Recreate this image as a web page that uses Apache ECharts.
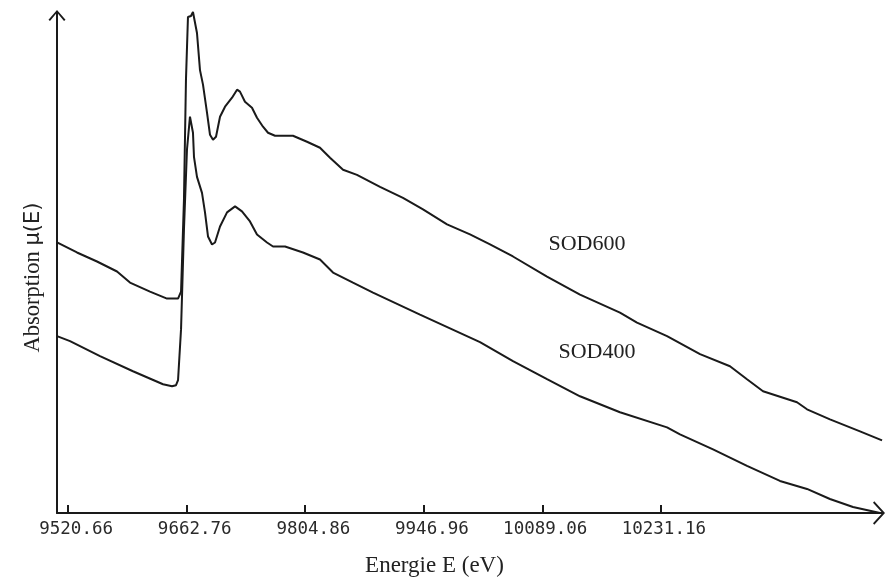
<!DOCTYPE html>
<html>
<head>
<meta charset="utf-8">
<title>XANES SOD400 / SOD600</title>
<script src="https://cdn.jsdelivr.net/npm/echarts@6/dist/echarts.min.js"></script>
<style>
  html, body { margin: 0; padding: 0; background: #ffffff; }
  #chart { width: 888px; height: 582px; }
</style>
</head>
<body>
<div id="chart"></div>
<script>
// Tick positions on the energy axis (eV)
const energyTicks = [9520.66, 9662.76, 9804.86, 9946.96, 10089.06, 10231.16];

// SOD600 spectrum: energy (eV) and absorption (arb. units)
const sod600Energy = [
  9507.5, 9531.4, 9555.4, 9579.4, 9594.9, 9618.9, 9639.3, 9652.5, 9656.1, 9659.6,
  9662.0, 9664.4, 9668.0, 9670.4, 9675.2, 9678.8, 9682.4, 9687.2, 9690.8, 9694.4,
  9698.0, 9702.8, 9708.8, 9717.2, 9723.2, 9726.7, 9732.7, 9741.1, 9747.1, 9754.3,
  9760.3, 9768.7, 9790.2, 9807.0, 9822.6, 9834.6, 9850.2, 9866.9, 9894.5, 9922.0,
  9946.0, 9974.8, 10002.3, 10026.3, 10053.8, 10094.6, 10134.1, 10182.0, 10202.4, 10238.4,
  10277.9, 10313.8, 10334.2, 10353.4, 10394.1, 10406.1, 10433.6, 10469.6, 10496.0
];
const sod600Mu = [
  0.540, 0.520, 0.502, 0.482, 0.460, 0.442, 0.428, 0.428, 0.442, 0.625,
  0.865, 0.990, 0.992, 1.000, 0.958, 0.884, 0.855, 0.799, 0.755, 0.745,
  0.751, 0.791, 0.811, 0.829, 0.845, 0.841, 0.821, 0.809, 0.789, 0.771,
  0.759, 0.753, 0.753, 0.741, 0.729, 0.709, 0.685, 0.675, 0.651, 0.629,
  0.606, 0.576, 0.556, 0.536, 0.512, 0.472, 0.436, 0.400, 0.380, 0.353,
  0.317, 0.293, 0.267, 0.243, 0.221, 0.207, 0.187, 0.163, 0.145
];

// SOD400 spectrum: energy (eV) and absorption (arb. units)
const sod400Energy = [
  9507.5, 9523.1, 9559.0, 9598.5, 9634.5, 9645.3, 9650.1, 9652.5, 9656.1, 9659.6,
  9663.2, 9666.8, 9670.4, 9671.6, 9675.2, 9681.2, 9684.8, 9688.4, 9693.2, 9696.8,
  9702.8, 9711.2, 9720.8, 9729.1, 9738.7, 9747.1, 9759.1, 9766.3, 9780.7, 9802.2,
  9822.6, 9838.2, 9862.1, 9886.1, 9942.4, 10014.3, 10053.8, 10094.6, 10134.1, 10182.0,
  10238.4, 10253.9, 10293.5, 10334.2, 10373.7, 10406.1, 10433.6, 10461.2, 10493.6
];
const sod400Mu = [
  0.353, 0.343, 0.313, 0.283, 0.257, 0.253, 0.255, 0.265, 0.367, 0.566,
  0.725, 0.791, 0.759, 0.711, 0.671, 0.639, 0.600, 0.552, 0.536, 0.540,
  0.572, 0.600, 0.612, 0.602, 0.582, 0.556, 0.540, 0.532, 0.532, 0.520,
  0.506, 0.480, 0.460, 0.440, 0.396, 0.341, 0.303, 0.267, 0.233, 0.201,
  0.171, 0.157, 0.127, 0.094, 0.064, 0.048, 0.028, 0.012, 0.000
];

function pairs(xs, ys) {
  return xs.map(function (x, i) { return [x, ys[i]]; });
}

// Open chevrons used as axis arrow heads (drawn pointing up, rotated by the axis)
const chevronX = 'path://M11,0 L22,10 L20.6,11.2 L11,2.4 L1.4,11.2 L0,10 Z';
const chevronY = 'path://M8,0 L16,9 L14.6,10.2 L8,2.3 L1.4,10.2 L0,9 Z';

const chart = echarts.init(document.getElementById('chart'), null, { renderer: 'canvas' });

const ink = '#1a1a1a';
const lineStyleCommon = { color: ink, width: 2 };

chart.setOption({
  animation: false,
  backgroundColor: '#ffffff',
  grid: { left: 57, right: 6, top: 12, bottom: 68, containLabel: false },
  xAxis: {
    type: 'value',
    min: 9507.48,
    max: 10495.95,
    name: 'Energie E (eV)',
    nameLocation: 'middle',
    nameGap: 41,
    nameTextStyle: {
      fontFamily: 'Liberation Serif',
      fontSize: 23,
      color: '#222',
      padding: [0, 70, 0, 0]
    },
    axisLine: {
      show: true,
      lineStyle: { color: ink, width: 2 },
      symbol: ['none', chevronX],
      symbolSize: [24, 12],
      symbolOffset: [0, -3]
    },
    axisTick: {
      show: true,
      inside: true,
      length: 8,
      customValues: energyTicks,
      lineStyle: { color: ink, width: 2 }
    },
    axisLabel: {
      show: true,
      customValues: energyTicks,
      margin: 7,
      align: 'center',
      formatter: function (v) { return '{t|' + v.toFixed(2) + '}'; },
      rich: {
        t: {
          width: 90,
          align: 'right',
          fontFamily: 'DejaVu Sans Mono',
          fontSize: 17.5,
          color: '#2a2a2a'
        }
      }
    },
    splitLine: { show: false }
  },
  yAxis: {
    type: 'value',
    min: 0,
    max: 1,
    name: '{s|Absorption }{m|μ(E)}',
    nameLocation: 'middle',
    nameGap: 12,
    nameTextStyle: {
      color: '#222',
      padding: [0, 30, 0, 0],
      rich: {
        s: { fontFamily: 'Liberation Serif', fontSize: 22.5, color: '#222' },
        m: { fontFamily: 'DejaVu Sans', fontSize: 21, color: '#222' }
      }
    },
    axisLine: {
      show: true,
      lineStyle: { color: ink, width: 2 },
      symbol: ['none', chevronY],
      symbolSize: [17, 11],
      symbolOffset: [0, -3.5]
    },
    axisTick: { show: false },
    axisLabel: { show: false },
    splitLine: { show: false }
  },
  series: [
    {
      name: 'SOD600',
      type: 'line',
      data: pairs(sod600Energy, sod600Mu),
      showSymbol: false,
      symbol: 'none',
      smooth: false,
      lineStyle: lineStyleCommon,
      markPoint: {
        symbol: 'circle',
        symbolSize: 0,
        label: {
          show: true,
          position: 'inside',
          fontFamily: 'Liberation Serif',
          fontSize: 22,
          color: '#222',
          formatter: 'SOD600'
        },
        data: [{ coord: [10142.4, 0.536] }]
      }
    },
    {
      name: 'SOD400',
      type: 'line',
      data: pairs(sod400Energy, sod400Mu),
      showSymbol: false,
      symbol: 'none',
      smooth: false,
      lineStyle: lineStyleCommon,
      markPoint: {
        symbol: 'circle',
        symbolSize: 0,
        label: {
          show: true,
          position: 'inside',
          fontFamily: 'Liberation Serif',
          fontSize: 22,
          color: '#222',
          formatter: 'SOD400'
        },
        data: [{ coord: [10154.4, 0.321] }]
      }
    }
  ]
});
</script>
</body>
</html>
